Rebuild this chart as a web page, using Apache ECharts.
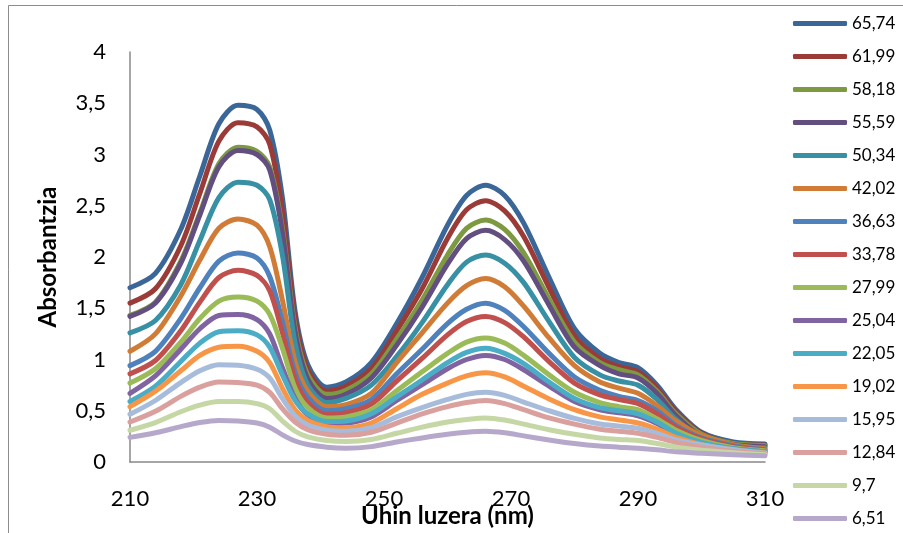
<!DOCTYPE html>
<html>
<head>
<meta charset="utf-8">
<script src="https://cdn.jsdelivr.net/npm/echarts@6/dist/echarts.min.js"></script>
<style>
html,body{margin:0;padding:0;background:#fff;}
#chart{width:903px;height:533px;}
</style>
</head>
<body>
<div id="chart"></div>
<script>
// Wavelengths (nm)
const wavelengths = [210,214,218,221,224,227,230,232,234,236,238,241,244,248,252,256,260,263,266,269,272,276,280,284,287,290,293,296,300,305,310];

// Series names (legend)
const seriesNames = ['65,74','61,99','58,18','55,59','50,34','42,02','36,63','33,78','27,99','25,04','22,05','19,02','15,95','12,84','9,7','6,51'];

// Absorbance values per series
const s6574 = [1.70,1.84,2.27,2.79,3.30,3.48,3.44,3.24,2.58,1.47,0.95,0.73,0.78,0.97,1.35,1.80,2.31,2.60,2.70,2.60,2.33,1.80,1.30,1.06,0.97,0.92,0.75,0.51,0.29,0.195,0.175];
const s6199 = [1.55,1.69,2.11,2.62,3.13,3.31,3.27,3.10,2.45,1.40,0.90,0.69,0.74,0.91,1.28,1.69,2.18,2.46,2.55,2.45,2.20,1.70,1.23,1.01,0.93,0.88,0.72,0.49,0.28,0.18,0.165];
const s5818 = [1.43,1.56,1.96,2.43,2.91,3.07,3.03,2.88,2.28,1.31,0.85,0.66,0.70,0.86,1.20,1.58,2.02,2.28,2.36,2.27,2.04,1.59,1.17,0.97,0.90,0.85,0.69,0.47,0.27,0.18,0.16];
const s5559 = [1.42,1.55,1.94,2.41,2.88,3.04,3.00,2.85,2.24,1.27,0.81,0.62,0.66,0.82,1.14,1.51,1.93,2.18,2.26,2.17,1.96,1.53,1.12,0.94,0.86,0.82,0.67,0.45,0.25,0.17,0.15];
const s5034 = [1.26,1.38,1.73,2.16,2.58,2.73,2.70,2.56,2.02,1.16,0.75,0.58,0.62,0.75,1.03,1.36,1.73,1.95,2.02,1.94,1.75,1.37,1.02,0.85,0.79,0.75,0.61,0.415,0.235,0.156,0.14];
const s4202 = [1.08,1.25,1.62,1.97,2.28,2.37,2.31,2.10,1.58,0.98,0.69,0.54,0.56,0.67,0.97,1.26,1.55,1.72,1.79,1.71,1.52,1.21,0.94,0.78,0.72,0.67,0.55,0.40,0.26,0.17,0.13];
const s3663 = [0.94,1.08,1.40,1.70,1.96,2.04,1.99,1.81,1.37,0.87,0.63,0.50,0.52,0.61,0.86,1.10,1.35,1.49,1.55,1.48,1.32,1.06,0.83,0.70,0.64,0.60,0.50,0.355,0.235,0.16,0.12];
const s3378 = [0.86,0.99,1.28,1.56,1.80,1.87,1.82,1.67,1.26,0.81,0.58,0.465,0.48,0.565,0.79,1.01,1.24,1.37,1.42,1.36,1.22,0.98,0.77,0.655,0.61,0.57,0.47,0.34,0.225,0.15,0.115];
const s2799 = [0.77,0.91,1.17,1.40,1.57,1.61,1.57,1.44,1.11,0.72,0.53,0.43,0.44,0.51,0.695,0.88,1.06,1.17,1.21,1.16,1.04,0.85,0.68,0.58,0.54,0.51,0.42,0.31,0.21,0.14,0.11];
const s2504 = [0.67,0.84,1.10,1.30,1.43,1.44,1.39,1.25,0.92,0.62,0.46,0.375,0.38,0.44,0.60,0.755,0.91,1.00,1.04,1.00,0.90,0.74,0.59,0.51,0.48,0.45,0.375,0.27,0.18,0.13,0.10];
const s2205 = [0.59,0.74,0.98,1.16,1.27,1.28,1.24,1.12,0.85,0.60,0.47,0.395,0.40,0.47,0.635,0.80,0.97,1.07,1.11,1.06,0.96,0.78,0.62,0.53,0.50,0.47,0.39,0.28,0.19,0.13,0.10];
const s1902 = [0.54,0.69,0.89,1.04,1.12,1.13,1.08,0.97,0.72,0.51,0.405,0.345,0.335,0.38,0.52,0.66,0.77,0.84,0.87,0.83,0.74,0.615,0.51,0.44,0.41,0.38,0.32,0.24,0.17,0.12,0.09];
const s1595 = [0.465,0.60,0.775,0.89,0.95,0.945,0.905,0.82,0.62,0.45,0.36,0.31,0.30,0.335,0.44,0.53,0.61,0.66,0.68,0.65,0.585,0.50,0.425,0.37,0.35,0.33,0.28,0.215,0.165,0.12,0.085];
const s1284 = [0.39,0.495,0.64,0.73,0.78,0.775,0.75,0.68,0.52,0.39,0.315,0.27,0.26,0.29,0.38,0.47,0.54,0.58,0.60,0.57,0.51,0.43,0.37,0.32,0.30,0.28,0.24,0.19,0.145,0.105,0.08];
const s97   = [0.31,0.385,0.49,0.555,0.59,0.59,0.57,0.52,0.40,0.30,0.245,0.21,0.20,0.22,0.28,0.34,0.39,0.415,0.43,0.41,0.37,0.315,0.27,0.235,0.22,0.21,0.18,0.145,0.115,0.09,0.07];
const s651  = [0.24,0.285,0.345,0.385,0.405,0.40,0.38,0.34,0.265,0.205,0.17,0.145,0.135,0.15,0.195,0.235,0.27,0.29,0.30,0.285,0.255,0.215,0.18,0.155,0.145,0.135,0.12,0.10,0.085,0.07,0.06];

const seriesValues = [s6574,s6199,s5818,s5559,s5034,s4202,s3663,s3378,s2799,s2504,s2205,s1902,s1595,s1284,s97,s651];

const seriesColors = ['#3B6698','#9A3B38','#7D9A43','#634E80','#3790A3','#D07C37','#4F81BD','#C0504D','#9BBB59','#8064A2','#4BACC6','#F79646','#A7BCDB','#D9A09E','#C5D7A4','#B6A8CA'];

const chart = echarts.init(document.getElementById('chart'), null, {renderer:'canvas'});
const FONT = 'Lato, "Open Sans", sans-serif';

const series = seriesNames.map((name, i) => ({
  name: name,
  type: 'line',
  smooth: 0.3,
  symbol: 'none',
  showSymbol: false,
  data: wavelengths.map((w, j) => [w, seriesValues[i][j]]),
  lineStyle: {width: 5, color: seriesColors[i], cap: 'round', join: 'round'},
  itemStyle: {color: seriesColors[i]},
  emphasis: {disabled: true},
  animation: false
}));

chart.setOption({
  backgroundColor: '#ffffff',
  animation: false,
  textStyle: {fontFamily: FONT},
  graphic: [{
    type: 'rect',
    shape: {x: 8.5, y: 5.5, width: 1000, height: 1000},
    style: {fill: 'none', stroke: '#8c8c8c', lineWidth: 1},
    silent: true, z: -1
  }],
  grid: {left: 130, right: 138, top: 52, bottom: 71, containLabel: false, outerBoundsMode: 'none'},
  legend: {
    orient: 'vertical',
    left: 793,
    top: 14,
    bottom: -30,
    padding: 0,
    itemWidth: 54,
    itemHeight: 5,
    itemGap: 14,
    icon: 'roundRect',
    data: seriesNames,
    textStyle: {fontFamily: FONT, fontSize: 17, color: '#000', lineHeight: 19},
    selectedMode: false
  },
  xAxis: {
    type: 'value',
    min: 210, max: 310, interval: 20,
    name: 'Uhin luzera (nm)',
    nameLocation: 'middle',
    nameGap: 42,
    nameMoveOverlap: false,
    nameTextStyle: {fontFamily: FONT, fontSize: 24, fontWeight: 'bold', color: '#000'},
    axisLine: {show: true, lineStyle: {color: '#888888', width: 1.5}},
    axisTick: {show: false},
    splitLine: {show: false},
    axisLabel: {fontFamily: FONT, fontSize: 22, color: '#000', margin: 26}
  },
  yAxis: {
    type: 'value',
    min: 0, max: 4, interval: 0.5,
    name: 'Absorbantzia',
    nameLocation: 'middle',
    nameGap: 70,
    nameMoveOverlap: false,
    nameTextStyle: {fontFamily: FONT, fontSize: 24, fontWeight: 'bold', color: '#000'},
    axisLine: {show: true, lineStyle: {color: '#888888', width: 1.5}},
    axisTick: {show: false},
    splitLine: {show: false},
    axisLabel: {fontFamily: FONT, fontSize: 22, color: '#000', margin: 24,
      formatter: v => String(v).replace('.', ',')}
  },
  series: series
});
</script>
</body>
</html>
